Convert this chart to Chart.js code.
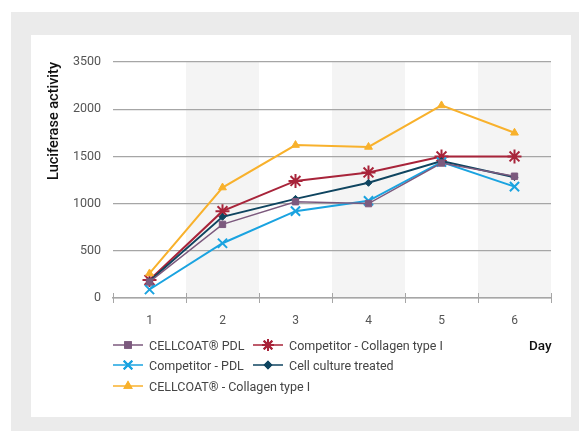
<!DOCTYPE html>
<html>
<head>
<meta charset="utf-8">
<script src="https://cdn.jsdelivr.net/npm/chart.js@4"></script>
<style>
  html, body { margin:0; padding:0; background:#fff; }
  body { width:579px; height:431px; position:relative; overflow:hidden; font-family: Roboto, "Open Sans", sans-serif; }
  #grey { position:absolute; left:11px; top:12px; width:568px; height:419px; background:#ebebeb; }
  #panel { position:absolute; left:31px; top:35px; width:540px; height:382px; background:#fff; }
  #wrap { position:absolute; left:0; top:0; width:540px; height:382px; }
  .leg { position:absolute; display:flex; align-items:center; font-size:12.5px; color:#444; white-space:nowrap; height:16px; }
  .leg canvas { margin-right:6px; }
  #day { position:absolute; left:498px; top:302px; font-size:13.5px; font-weight:500; color:#111; }
</style>
</head>
<body>
<div id="grey"></div>
<div id="panel">
  <div id="wrap"><canvas id="c"></canvas></div>
  <div id="legend"></div>
  <div id="day">Day</div>
</div>
<script>
const categories = ['1','2','3','4','5','6'];
const yTickLabels = ['0','500','1000','1500','2000','3500'];
const seriesNames = ['CELLCOAT® PDL','Competitor - Collagen type I','Competitor - PDL','Cell culture treated','CELLCOAT® - Collagen type I'];
const cellcoatPDL        = [170, 780, 1020, 1000, 1430, 1290];
const competitorCollagen = [190, 920, 1240, 1330, 1500, 1500];
const competitorPDL      = [90, 580, 920, 1030, 1440, 1180];
const cellCultureTreated = [180, 860, 1050, 1220, 1450, 1280];
const cellcoatCollagen   = [260, 1170, 1620, 1600, 2040, 1750];

const styles = [
  {color:'#7c5a7e', point:'rect', radius:4.5, width:1.5, legR:4},
  {color:'#a8243a', point:'star', radius:7, width:2, legR:6},
  {color:'#1aa3e0', point:'crossRot', radius:6.5, width:2, legR:6},
  {color:'#0f4560', point:'rectRot', radius:3.5, width:2, legR:3},
  {color:'#f8b12c', point:'triangle', radius:4.5, width:2, legR:3.5}
];
const values = [cellcoatPDL, competitorCollagen, competitorPDL, cellCultureTreated, cellcoatCollagen];
const drawOrder = [4, 0, 3, 2, 1];

const datasets = values.map((v, i) => ({
  label: seriesNames[i],
  data: v,
  borderColor: styles[i].color,
  backgroundColor: styles[i].color,
  pointStyle: styles[i].point,
  pointRadius: styles[i].radius,
  pointHoverRadius: styles[i].radius,
  pointBorderWidth: styles[i].point === 'rect' || styles[i].point === 'triangle' || styles[i].point === 'rectRot' ? 1 : 2,
  borderWidth: styles[i].width,
  tension: 0,
  order: drawOrder.indexOf(i)
}));

const bands = {
  id: 'bands',
  beforeDraw(chart) {
    const {ctx, chartArea, scales:{x}} = chart;
    const half = (x.getPixelForValue(1) - x.getPixelForValue(0)) / 2;
    ctx.save();
    ctx.fillStyle = '#f4f4f4';
    categories.forEach((c, i) => {
      if (i % 2 === 1) {
        const cx = x.getPixelForValue(i);
        ctx.fillRect(cx - half, chartArea.top, half * 2, chartArea.bottom - chartArea.top);
      }
    });
    ctx.restore();
  },
  afterDraw(chart) {
    const {ctx, chartArea, scales:{x}} = chart;
    const half = (x.getPixelForValue(1) - x.getPixelForValue(0)) / 2;
    ctx.save();
    ctx.strokeStyle = '#a6a6a6';
    ctx.lineWidth = 1;
    for (let i = 0; i <= categories.length; i++) {
      const px = Math.round(x.getPixelForValue(0) - half + i * half * 2) + 0.5;
      ctx.beginPath();
      ctx.moveTo(px, chartArea.bottom - 5);
      ctx.lineTo(px, chartArea.bottom + 5);
      ctx.stroke();
    }
    ctx.restore();
  }
};

new Chart(document.getElementById('c'), {
  type: 'line',
  data: { labels: categories, datasets },
  plugins: [bands],
  options: {
    responsive: true,
    maintainAspectRatio: false,
    animation: false,
    layout: { padding: { top: 27, right: 20, left: 0, bottom: 0 } },
    plugins: { legend: { display: false }, tooltip: { enabled: false } },
    scales: {
      x: {
        offset: true,
        grid: { display: true, drawOnChartArea: false, drawTicks: false, offset: true, color: '#a6a6a6' },
        border: { display: true, color: '#a6a6a6', width: 1.5 },
        ticks: { padding: 16, color: '#555', font: { family: 'Roboto', size: 12 } },
        afterFit(s) { s.height = 119; }
      },
      y: {
        min: 0, max: 2500,
        ticks: { stepSize: 500, padding: 12, color: '#555', font: { family: 'Roboto', size: 12.5 },
          callback: (v, idx) => yTickLabels[idx] },
        grid: { color: '#a6a6a6', drawTicks: false, lineWidth: 1.2 },
        border: { display: false },
        title: { display: true, text: 'Luciferase activity', align: 'end', color: '#111',
          font: { family: 'Roboto', size: 14.5, weight: '500' }, padding: { top: 15, bottom: 0 } },
        afterFit(s) { s.width = 82; }
      }
    }
  }
});

// HTML legend with line + marker swatches
const legendPos = [
  {left:82, top:302}, {left:222, top:302},
  {left:82, top:322}, {left:222, top:322},
  {left:82, top:343}
];
const legendEl = document.getElementById('legend');
seriesNames.forEach((name, i) => {
  const d = document.createElement('div');
  d.className = 'leg';
  d.style.left = legendPos[i].left + 'px';
  d.style.top = legendPos[i].top + 'px';
  const cv = document.createElement('canvas');
  cv.width = 30; cv.height = 16;
  const g = cv.getContext('2d');
  g.strokeStyle = styles[i].color; g.fillStyle = styles[i].color;
  g.lineWidth = 1.5;
  g.beginPath(); g.moveTo(0, 8); g.lineTo(30, 8); g.stroke();
  g.lineWidth = 2;
  Chart.helpers.drawPoint(g, { pointStyle: styles[i].point, radius: styles[i].legR, borderWidth: 1.5, rotation: 0 }, 15, 8);
  g.fill(); g.stroke();
  d.appendChild(cv);
  const t = document.createElement('span');
  t.textContent = name;
  d.appendChild(t);
  legendEl.appendChild(d);
});
</script>
</body>
</html>
